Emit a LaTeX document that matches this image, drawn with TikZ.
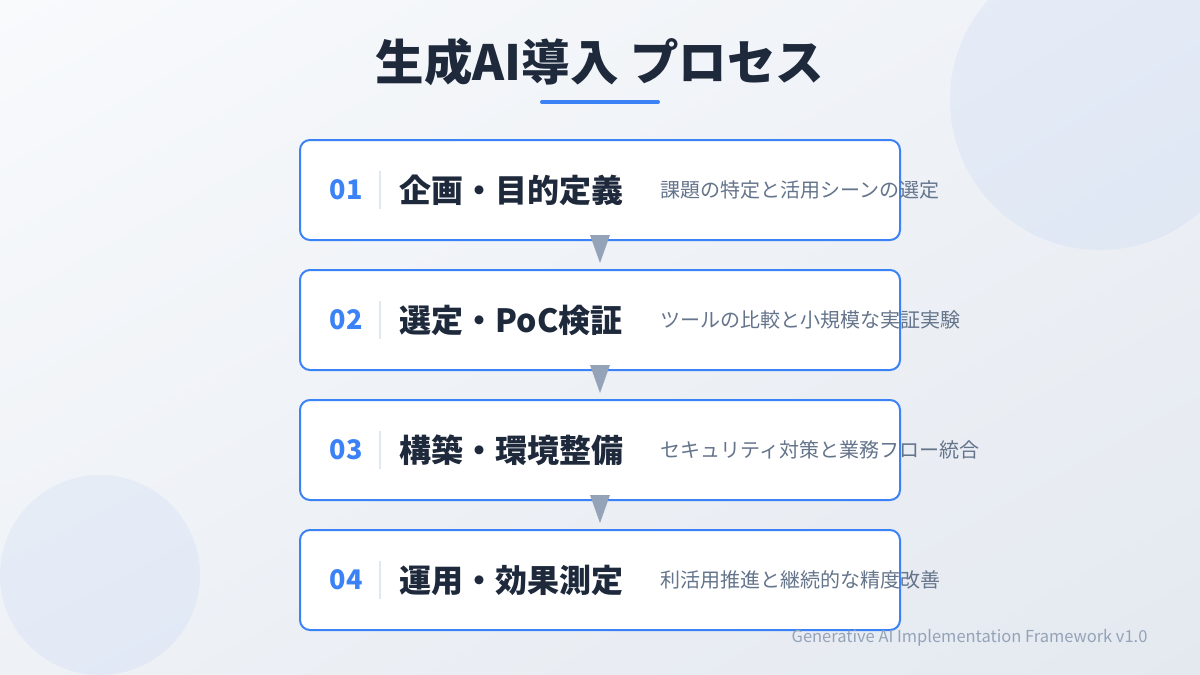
\documentclass[tikz,border=0pt]{standalone}
\usepackage{fontspec}
\setmainfont{Noto Sans CJK JP}
\usetikzlibrary{calc,shadings}
\definecolor{ink}{HTML}{1E293B}
\definecolor{accent}{HTML}{3B82F6}
\definecolor{muted}{HTML}{64748B}
\definecolor{faint}{HTML}{94A3B8}
\definecolor{rule}{HTML}{E2E8F0}
\definecolor{bgA}{HTML}{F8FAFC}
\definecolor{bgB}{HTML}{E4E9F0}
\definecolor{bgC}{HTML}{EEF1F6}
\tikzset{
  stepbox/.style={draw=accent, line width=2pt, fill=white, rounded corners=10pt,
    minimum width=600pt, minimum height=100pt},
  numtxt/.style={text=accent, font=\fontsize{27}{30}\selectfont\bfseries},
  ttltxt/.style={anchor=west, text=ink, font=\fontsize{32}{36}\selectfont\bfseries},
  desctxt/.style={anchor=west, text=muted, font=\fontsize{20}{24}\selectfont},
  blob/.style={fill=accent, fill opacity=0.06}
}
\begin{document}
\begin{tikzpicture}[x=1pt,y=-1pt]
\shade[upper left=bgA, upper right=bgC, lower left=bgC, lower right=bgB] (0,0) rectangle (1200,675);
\useasboundingbox (0,0) rectangle (1200,675);
\fill[blob] (1100,100) circle (150);
\fill[blob] (100,575) circle (100);

\node (title) at (600,62) {\fontsize{48.5}{52}\selectfont\bfseries\color{ink}生成AI導入 プロセス};
\draw[accent, line width=4pt, line cap=round] (542,102) -- (658,102);

\foreach \i/\ttl/\desc in {1/企画・目的定義/課題の特定と活用シーンの選定,
  2/選定・PoC検証/ツールの比較と小規模な実証実験,
  3/構築・環境整備/セキュリティ対策と業務フロー統合,
  4/運用・効果測定/利活用推進と継続的な精度改善}{
  \node[stepbox] (p\i) at (600,{190+130*(\i-1)}) {};
  \node[numtxt] (n\i) at ($(p\i.west)+(47,0)$) {0\i};
  \draw[rule, line width=1.5pt] ($(p\i.west)+(81,-19)$) -- ($(p\i.west)+(81,19)$);
  \node[ttltxt] (t\i) at ($(p\i.west)+(97,0)$) {\ttl};
  \node[desctxt] (d\i) at ($(p\i.west)+(358,0)$) {\desc};
}

\foreach \i/\j in {1/2,2/3,3/4}{
  \path (p\i) -- (p\j) coordinate[midway] (m\i);
  \fill[faint] ($(m\i)+(-10,-20)$) -- ($(m\i)+(10,-20)$) -- ($(m\i)+(0,8)$) -- cycle;
}

\node[anchor=east, text=faint, font=\fontsize{16.5}{18}\selectfont] (foot) at (1151,638) {Generative AI Implementation Framework v1.0};
\end{tikzpicture}
\end{document}
